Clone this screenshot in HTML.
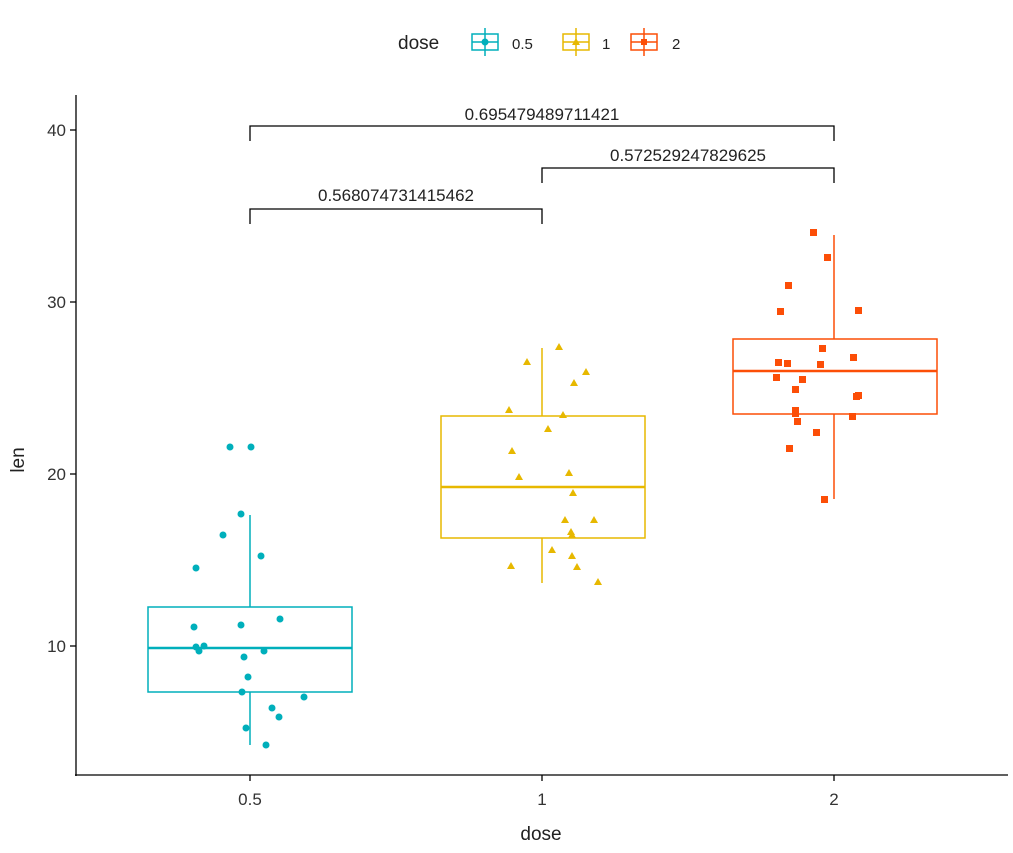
<!DOCTYPE html>
<html><head><meta charset="utf-8"><style>body{margin:0;background:#fff}svg{display:block}text{font-family:"Liberation Sans",sans-serif}</style></head><body>
<svg width="1013" height="853" xmlns="http://www.w3.org/2000/svg">
<rect width="1013" height="853" fill="#fff"/>
<!-- legend -->
<text x="398" y="49" font-size="19" fill="#222">dose</text>
<g stroke="#00AFBB" stroke-width="1.5" fill="none"><rect x="472" y="34" width="26" height="16"/><line x1="485" y1="28" x2="485" y2="56"/><line x1="472" y1="42" x2="498" y2="42"/></g><circle cx="485" cy="42" r="3.5" fill="#00AFBB"/>
<text x="512" y="49" font-size="15" fill="#222">0.5</text>
<g stroke="#E7B800" stroke-width="1.5" fill="none"><rect x="563" y="34" width="26" height="16"/><line x1="576" y1="28" x2="576" y2="56"/><line x1="563" y1="42" x2="589" y2="42"/></g><polygon points="576,38 580,45 572,45" fill="#E7B800"/>
<text x="602" y="49" font-size="15" fill="#222">1</text>
<g stroke="#FC4E07" stroke-width="1.5" fill="none"><rect x="631" y="34" width="26" height="16"/><line x1="644" y1="28" x2="644" y2="56"/><line x1="631" y1="42" x2="657" y2="42"/></g><rect x="641" y="39" width="6" height="6" fill="#FC4E07"/>
<text x="672" y="49" font-size="15" fill="#222">2</text>
<!-- axes -->
<line x1="76" y1="95" x2="76" y2="776" stroke="#000" stroke-width="1.3"/>
<line x1="75" y1="775" x2="1008" y2="775" stroke="#000" stroke-width="1.3"/>
<g stroke="#000" stroke-width="1.3"><line x1="70" y1="130" x2="76" y2="130"/><line x1="70" y1="302" x2="76" y2="302"/><line x1="70" y1="474" x2="76" y2="474"/><line x1="70" y1="646" x2="76" y2="646"/>
<line x1="250" y1="775" x2="250" y2="781"/><line x1="542" y1="775" x2="542" y2="781"/><line x1="834" y1="775" x2="834" y2="781"/></g>
<g font-size="17" fill="#333" text-anchor="end"><text x="66" y="136">40</text><text x="66" y="308">30</text><text x="66" y="480">20</text><text x="66" y="652">10</text></g>
<g font-size="17" fill="#333" text-anchor="middle"><text x="250" y="805">0.5</text><text x="542" y="805">1</text><text x="834" y="805">2</text></g>
<text x="541" y="840" font-size="19" fill="#222" text-anchor="middle">dose</text>
<text transform="translate(24,460) rotate(-90)" font-size="19" fill="#222" text-anchor="middle">len</text>
<!-- brackets -->
<g stroke="#000" stroke-width="1.3" fill="none">
<polyline points="250,141 250,126 834,126 834,141"/>
<polyline points="542,183 542,168 834,168 834,183"/>
<polyline points="250,224 250,209 542,209 542,224"/></g>
<g font-size="17" fill="#222" text-anchor="middle"><text x="542" y="120">0.695479489711421</text><text x="688" y="161">0.572529247829625</text><text x="396" y="201">0.568074731415462</text></g>
<!-- boxes -->
<g stroke="#00AFBB" stroke-width="1.5" fill="none"><line x1="250" y1="515" x2="250" y2="607"/><line x1="250" y1="692" x2="250" y2="745"/><rect x="148" y="607" width="204" height="85"/><line x1="148" y1="648" x2="352" y2="648" stroke-width="2.5"/></g>
<g stroke="#E7B800" stroke-width="1.5" fill="none"><line x1="542" y1="348" x2="542" y2="416"/><line x1="542" y1="538" x2="542" y2="583"/><rect x="441" y="416" width="204" height="122"/><line x1="441" y1="487" x2="645" y2="487" stroke-width="2.5"/></g>
<g stroke="#FC4E07" stroke-width="1.5" fill="none"><line x1="834" y1="235" x2="834" y2="339"/><line x1="834" y1="414" x2="834" y2="499"/><rect x="733" y="339" width="204" height="75"/><line x1="733" y1="371" x2="937" y2="371" stroke-width="2.5"/></g>
<!-- points -->
<g fill="#00AFBB">
<circle cx="230" cy="447" r="3.5"/><circle cx="251" cy="447" r="3.5"/><circle cx="241" cy="514" r="3.5"/><circle cx="223" cy="535" r="3.5"/><circle cx="261" cy="556" r="3.5"/><circle cx="196" cy="568" r="3.5"/><circle cx="194" cy="627" r="3.5"/><circle cx="241" cy="625" r="3.5"/><circle cx="280" cy="619" r="3.5"/><circle cx="196" cy="647" r="3.5"/><circle cx="204" cy="646" r="3.5"/><circle cx="199" cy="651" r="3.5"/><circle cx="264" cy="651" r="3.5"/><circle cx="244" cy="657" r="3.5"/><circle cx="248" cy="677" r="3.5"/><circle cx="242" cy="692" r="3.5"/><circle cx="304" cy="697" r="3.5"/><circle cx="272" cy="708" r="3.5"/><circle cx="279" cy="717" r="3.5"/><circle cx="246" cy="728" r="3.5"/><circle cx="266" cy="745" r="3.5"/></g>
<g fill="#E7B800">
<polygon points="559,343 563,350 555,350"/><polygon points="527,358 531,365 523,365"/><polygon points="586,368 590,375 582,375"/><polygon points="574,379 578,386 570,386"/><polygon points="509,406 513,413 505,413"/><polygon points="563,411 567,418 559,418"/><polygon points="548,425 552,432 544,432"/><polygon points="512,447 516,454 508,454"/><polygon points="569,469 573,476 565,476"/><polygon points="519,473 523,480 515,480"/><polygon points="573,489 577,496 569,496"/><polygon points="565,516 569,523 561,523"/><polygon points="594,516 598,523 590,523"/><polygon points="571,528 575,535 567,535"/><polygon points="572,531 576,538 568,538"/><polygon points="552,546 556,553 548,553"/><polygon points="572,552 576,559 568,559"/><polygon points="511,562 515,569 507,569"/><polygon points="577,563 581,570 573,570"/><polygon points="598,578 602,585 594,585"/></g>
<g fill="#FC4E07">
<rect x="810" y="229" width="7" height="7"/><rect x="824" y="254" width="7" height="7"/><rect x="785" y="282" width="7" height="7"/><rect x="855" y="307" width="7" height="7"/><rect x="777" y="308" width="7" height="7"/><rect x="819" y="345" width="7" height="7"/><rect x="850" y="354" width="7" height="7"/><rect x="775" y="359" width="7" height="7"/><rect x="784" y="360" width="7" height="7"/><rect x="817" y="361" width="7" height="7"/><rect x="799" y="376" width="7" height="7"/><rect x="773" y="374" width="7" height="7"/><rect x="792" y="386" width="7" height="7"/><rect x="855" y="392" width="7" height="7"/><rect x="853" y="393" width="7" height="7"/><rect x="792" y="407" width="7" height="7"/><rect x="792" y="410" width="7" height="7"/><rect x="849" y="413" width="7" height="7"/><rect x="794" y="418" width="7" height="7"/><rect x="813" y="429" width="7" height="7"/><rect x="786" y="445" width="7" height="7"/><rect x="821" y="496" width="7" height="7"/></g>
</svg>
</body></html>
